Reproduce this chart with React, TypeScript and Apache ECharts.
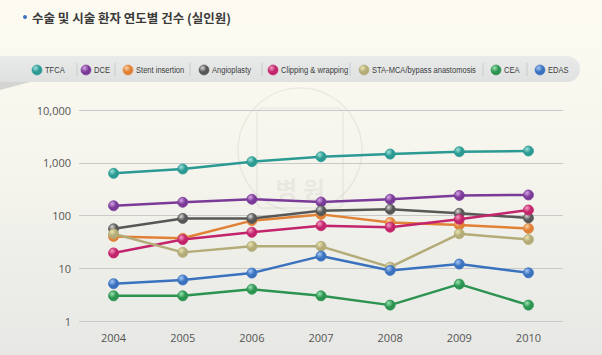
import React, { useEffect, useRef } from "react";
import * as echarts from "echarts";

const years = ["2004", "2005", "2006", "2007", "2008", "2009", "2010"];
const yTickLabels = ["1", "10", "100", "1,000", "10,000"];

const tfca = [630, 760, 1050, 1300, 1460, 1620, 1670];
const dce = [153, 178, 203, 180, 203, 240, 245];
const stent = [40, 37, 80, 105, 74, 66, 57];
const angioplasty = [56, 88, 88, 123, 131, 110, 90];
const clipping = [19.5, 35, 48, 64, 60, 85, 127];
const staMca = [45, 20, 26, 26, 10.5, 45, 35];
const cea = [3, 3, 4, 3, 2, 5, 2];
const edas = [5.1, 6, 8.1, 17, 9.1, 12, 8.2];

const seriesNames = [
  "TFCA",
  "DCE",
  "Stent insertion",
  "Angioplasty",
  "Clipping & wrapping",
  "STA-MCA/bypass anastomosis",
  "CEA",
  "EDAS",
];
const seriesData = [tfca, dce, stent, angioplasty, clipping, staMca, cea, edas];
const lineColors = ["#2a9a93", "#7a3b98", "#e08136", "#575757", "#c2256c", "#b3ab78", "#2c9450", "#3a72bf"];
const lightColors = ["#9fe0da", "#d7a6e6", "#ffd0a0", "#d8d8d8", "#f59cc2", "#ece6b0", "#9be4b2", "#a9c8f5"];

const legendIconX = [37, 86, 128, 204, 273, 364, 496, 540];
const separatorX = [77, 115, 190, 262, 350, 483, 527];

export default function App() {
  const ref = useRef<HTMLDivElement>(null);
  useEffect(() => {
    if (!ref.current) return;
    const chart = echarts.init(ref.current, null, { renderer: "svg" });
    const grad = (i: number) =>
      new echarts.graphic.RadialGradient(0.35, 0.3, 0.75, [
        { offset: 0, color: lightColors[i] },
        { offset: 0.55, color: lineColors[i] },
        { offset: 1, color: lineColors[i] },
      ]);
    const legendGraphics: any[] = [];
    seriesNames.forEach((n, i) => {
      legendGraphics.push({
        type: "circle",
        shape: { cx: legendIconX[i], cy: 70, r: 5 },
        style: { fill: grad(i), stroke: lineColors[i], lineWidth: 0.6 },
      });
      legendGraphics.push({
        type: "text",
        x: legendIconX[i] + 8,
        y: 70,
        scaleX: 0.84,
        style: {
          text: n,
          fontFamily: "'Liberation Sans', Arial, sans-serif",
          fontSize: 9,
          fill: "#3c3c3c",
          verticalAlign: "middle",
        },
      });
    });
    const graphics: any[] = [
      {
        type: "rect",
        shape: { x: -20, y: 56, width: 600, height: 26, r: 13 },
        style: {
          fill: new echarts.graphic.LinearGradient(0, 0, 0, 1, [
            { offset: 0, color: "#e9ebeb" },
            { offset: 1, color: "#dfe1e1" },
          ]),
        },
        z: -1,
      },
      {
        type: "polygon",
        shape: { points: [[0, 82], [30, 82], [0, 90]] },
        style: { fill: "#d4d4d2" },
        z: -1,
      },
      {
        type: "group",
        z: -1,
        children: [
          {
            type: "circle",
            shape: { cx: 300, cy: 150, r: 62 },
            style: { fill: "none", stroke: "rgba(120,120,110,0.10)", lineWidth: 1.5 },
          },
          {
            type: "rect",
            shape: { x: 257, y: 108, width: 86, height: 100, r: 6 },
            style: { fill: "none", stroke: "rgba(120,120,110,0.10)", lineWidth: 1.5 },
          },
          {
            type: "text",
            x: 300,
            y: 188,
            style: {
              text: "병 원",
              fontFamily: "'Noto Sans CJK KR', sans-serif",
              fontWeight: "bold",
              fontSize: 24,
              fill: "rgba(120,120,110,0.10)",
              align: "center",
              verticalAlign: "middle",
            },
          },
        ],
      },
      {
        type: "circle",
        shape: { cx: 25, cy: 17, r: 2 },
        style: { fill: "#3a78c0" },
      },
      {
        type: "text",
        x: 32,
        y: 17,
        style: {
          text: "수술 및 시술 환자 연도별 건수 (실인원)",
          fontFamily: "'Noto Sans CJK KR', sans-serif",
          fontWeight: "bold",
          fontSize: 12.5,
          fill: "#3a3a3a",
          verticalAlign: "middle",
        },
      },
      ...separatorX.map((x) => ({
        type: "line",
        shape: { x1: x, y1: 63, x2: x, y2: 76 },
        style: { stroke: "#c8cbcb", lineWidth: 1 },
      })),
      ...legendGraphics,
    ];
    chart.setOption({
      animation: false,
      graphic: graphics,
      grid: { left: 79, right: 39, top: 110, bottom: 34 },
      xAxis: {
        type: "category",
        data: years,
        boundaryGap: true,
        axisLine: { show: false },
        axisTick: { show: false },
        axisLabel: { color: "#555", fontSize: 11, margin: 11, fontFamily: "'Open Sans', sans-serif" },
      },
      yAxis: {
        type: "log",
        logBase: 10,
        min: 1,
        max: 10000,
        axisLine: { show: false },
        axisTick: { show: false },
        splitLine: { lineStyle: { color: "#c9c9c9", width: 1 } },
        axisLabel: {
          color: "#555",
          fontSize: 11,
          margin: 8,
          fontFamily: "'Open Sans', sans-serif",
          formatter: (v: number) => {
            const idx = Math.round(Math.log10(v));
            return yTickLabels[idx] ?? "";
          },
        },
      },
      series: seriesNames.map((n, i) => ({
        name: n,
        type: "line",
        data: seriesData[i],
        symbol: "circle",
        symbolSize: 10,
        lineStyle: { color: lineColors[i], width: 2.5 },
        itemStyle: { color: grad(i), borderColor: lineColors[i], borderWidth: 0.8 },
        z: 2 + i,
      })),
    });
    return () => chart.dispose();
  }, []);
  return (
    <div
      style={{
        width: 602,
        height: 355,
        background: "linear-gradient(180deg, #fdfbf1 0%, #f7f6ee 40%, #e7e8e5 100%)",
        position: "absolute",
        left: 0,
        top: 0,
      }}
    >
      <div ref={ref} style={{ width: 602, height: 355 }} />
    </div>
  );
}
